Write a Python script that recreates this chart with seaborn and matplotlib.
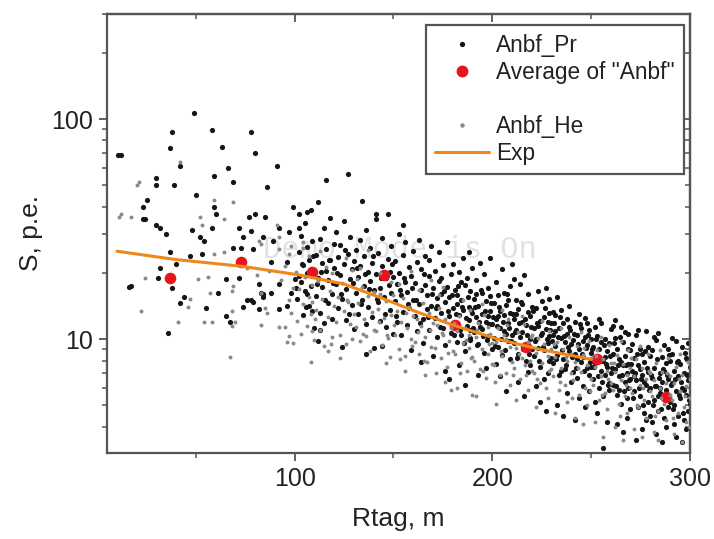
import numpy as np
import pandas as pd
import seaborn as sns
import matplotlib.pyplot as plt
from matplotlib.lines import Line2D
from matplotlib.ticker import LogLocator, NullFormatter, FixedLocator

# Anbf_Pr points (Rtag [m], S [p.e.])
pr_points = [
    (49, 107), (38, 87), (58, 89), (78, 87), (37, 74), (63, 75), (12, 69), (80, 70), (42, 61), (91, 61),
    (66, 60), (30, 54), (59, 55), (69, 52), (30, 50), (39, 50), (86, 49), (50, 45), (25, 43), (23, 40),
    (59, 40), (99, 40), (60, 37), (24, 35), (77, 36), (80, 37), (85, 36), (102, 37), (30, 33), (32, 32),
    (35, 30), (48, 31.5), (72, 32), (78, 31), (92, 32), (97, 30.6), (102, 32), (52, 29), (54, 28), (58, 32),
    (74, 29), (84, 29), (89, 28), (69, 26), (73, 26), (79, 25.6), (47, 24), (53, 24.4), (37, 25), (32, 21),
    (40, 22), (88, 22.4), (96, 22.4), (10.6, 69), (23, 35), (16, 17.2), (17, 17.5), (31, 19), (38, 17),
    (42, 14.6), (44, 15.6), (36, 10.7), (55, 13.8), (61, 16.3), (65, 18.8), (72, 19), (65, 12.7), (67, 12),
    (74, 14), (78, 15), (79, 14.7), (82, 13.7), (82, 17.8), (83, 16.3), (84, 15.6), (92, 13.7), (92, 17.8),
    (96, 14.2), (98, 16.3), (100, 18.8), (88, 16.3), (76, 15), (84, 16), (113, 11), (124, 9.2), (115, 11.9),
    (116, 53), (127, 56), (134, 42.5), (112, 42), (106, 38), (141, 37), (147, 37), (141, 35),
    # 100-110
    (101, 15.2), (102, 24.8), (103, 18.1), (103, 29.5), (104, 12.9), (104, 21.7), (105, 33.8), (105, 16.6),
    (106, 19.9), (106, 26.3), (107, 14.1), (107, 22.9), (108, 17.4), (108, 38.5), (109, 13.5), (109, 27.8),
    (110, 20.6), (110, 11.2), (102, 19.3), (106, 16.0),
    # 110-120
    (111, 24.1), (111, 15.7), (112, 19.0), (113, 28.6), (113, 13.1), (114, 22.3), (114, 17.2), (115, 31.9),
    (116, 20.4), (116, 25.7), (117, 14.6), (117, 18.5), (118, 35.4), (118, 23.0), (119, 16.1), (119, 12.4),
    (120, 27.1), (120, 21.0), (112, 9.8),
    # 120-130
    (121, 17.8), (121, 30.8), (122, 13.9), (122, 23.6), (123, 19.6), (123, 26.9), (124, 15.3), (125, 21.9),
    (125, 34.6), (126, 16.9), (126, 12.2), (127, 24.5), (128, 18.7), (128, 29.2), (129, 14.3), (129, 20.8),
    (130, 22.6), (130, 11.1),
    # 130-140
    (131, 16.3), (131, 25.4), (132, 19.2), (132, 13.0), (133, 28.1), (133, 21.4), (134, 15.0), (135, 23.9),
    (135, 17.5), (136, 11.7), (136, 31.2), (137, 20.1), (137, 14.0), (138, 26.0), (138, 18.3), (139, 12.6),
    (139, 22.2), (140, 16.8), (140, 9.1), (136, 8.6),
    # 140-150
    (141, 19.8), (142, 14.7), (142, 24.7), (143, 17.0), (143, 12.1), (144, 21.6), (144, 28.9), (145, 15.6),
    (146, 18.9), (146, 11.4), (147, 23.2), (148, 13.6), (148, 20.3), (149, 16.2), (149, 26.6), (150, 19.1),
    (150, 10.6), (144, 9.3),
    # 150-160
    (151, 14.9), (151, 22.7), (152, 17.9), (152, 12.0), (153, 30.1), (153, 20.0), (154, 15.8), (154, 10.4),
    (155, 24.2), (155, 13.3), (156, 18.2), (156, 27.5), (157, 11.6), (157, 16.4), (158, 21.2), (158, 13.9),
    (159, 19.4), (159, 8.9), (160, 25.1), (160, 15.1), (155, 33.0),
    # 160-170
    (161, 12.8), (161, 18.0), (162, 22.4), (162, 10.9), (163, 14.5), (163, 28.3), (164, 16.7), (164, 20.9),
    (165, 12.3), (165, 9.6), (166, 17.6), (166, 24.0), (167, 13.7), (167, 15.9), (168, 19.3), (168, 11.0),
    (169, 26.4), (169, 14.2), (170, 17.1), (170, 8.4), (164, 7.9), (168, 22.8),
    # 170-180
    (171, 12.5), (171, 20.5), (172, 15.4), (172, 10.2), (173, 18.4), (173, 24.9), (174, 13.2), (174, 16.0),
    (175, 11.3), (175, 21.8), (176, 14.8), (176, 9.4), (177, 27.6), (177, 17.3), (178, 12.7), (178, 15.5),
    (179, 19.7), (179, 10.7), (180, 13.8), (180, 22.0), (176, 7.2), (178, 6.6), (174, 18.9), (172, 14.1),
    # 180-190
    (181, 11.8), (181, 16.8), (182, 14.4), (182, 9.7), (183, 20.2), (183, 12.9), (184, 15.1), (184, 10.5),
    (185, 23.4), (185, 13.6), (186, 17.7), (186, 8.8), (187, 11.5), (187, 19.0), (188, 14.0), (188, 12.2),
    (189, 16.5), (189, 9.9), (190, 21.1), (190, 13.1), (183, 7.6), (186, 6.2), (188, 25.0), (184, 18.2),
    (189, 11.0), (182, 15.8),
    # 190-200
    (191, 10.8), (191, 15.3), (192, 12.6), (192, 18.6), (193, 9.5), (193, 14.2), (194, 11.4), (194, 22.1),
    (195, 16.2), (195, 13.0), (196, 8.7), (196, 19.8), (197, 12.0), (197, 14.9), (198, 10.3), (198, 17.0),
    (199, 13.4), (199, 23.5), (200, 11.7), (200, 9.0), (193, 6.9), (197, 7.4), (195, 11.1), (199, 15.7),
    (192, 16.0), (198, 12.8),
    # 200-210
    (201, 14.6), (201, 10.1), (202, 12.3), (202, 18.1), (203, 9.2), (203, 15.9), (204, 11.2), (204, 13.5),
    (205, 20.8), (205, 8.5), (206, 12.9), (206, 16.3), (207, 10.6), (207, 14.3), (208, 9.8), (208, 11.9),
    (209, 17.4), (209, 13.2), (210, 10.4), (210, 22.0), (204, 6.8), (207, 5.8), (202, 7.7), (209, 8.1),
    (206, 10.9), (203, 12.7), (208, 15.0),
    # 210-220
    (211, 12.4), (211, 9.6), (212, 15.1), (212, 11.0), (213, 8.6), (213, 13.7), (214, 17.9), (214, 10.2),
    (215, 12.0), (215, 14.5), (216, 9.3), (216, 19.5), (217, 11.6), (217, 8.0), (218, 13.3), (218, 16.1),
    (219, 10.0), (219, 12.7), (220, 9.0), (220, 14.0), (213, 6.4), (216, 5.5), (218, 7.1), (211, 18.7),
    (215, 10.8), (219, 7.6), (212, 13.0),
    # 220-230
    (221, 11.3), (221, 8.4), (222, 13.8), (222, 10.0), (223, 16.6), (223, 9.1), (224, 12.1), (224, 7.5),
    (225, 14.9), (225, 10.7), (226, 8.9), (226, 12.6), (227, 11.1), (227, 17.0), (228, 9.6), (228, 7.0),
    (229, 13.1), (229, 10.3), (230, 8.2), (230, 11.8), (224, 5.2), (227, 4.7), (222, 6.1), (226, 6.6),
    (229, 15.2), (223, 11.5), (228, 12.0),
    # 230-240
    (231, 10.4), (231, 7.8), (232, 12.9), (232, 9.3), (233, 15.5), (233, 8.5), (234, 11.2), (234, 6.9),
    (235, 10.1), (235, 13.6), (236, 8.1), (236, 11.9), (237, 9.7), (237, 7.3), (238, 12.4), (238, 10.6),
    (239, 8.8), (239, 14.1), (240, 9.5), (240, 6.4), (233, 5.0), (236, 4.5), (238, 5.7), (232, 10.9),
    (235, 7.2), (239, 11.4), (231, 13.3),
    # 240-250
    (241, 9.9), (241, 7.1), (242, 12.0), (242, 8.6), (243, 10.5), (243, 6.7), (244, 13.0), (244, 9.0),
    (245, 7.9), (245, 11.3), (246, 8.3), (246, 6.1), (247, 10.2), (247, 12.5), (248, 7.4), (248, 9.4),
    (249, 11.0), (249, 6.9), (250, 8.7), (250, 10.0), (244, 5.4), (247, 4.9), (249, 5.8), (242, 4.3),
    (246, 9.8), (250, 7.5), (243, 8.1), (248, 11.9),
    # 250-260
    (251, 9.2), (251, 6.6), (252, 11.4), (252, 7.8), (253, 8.4), (253, 10.3), (254, 6.0), (254, 9.0),
    (255, 7.2), (255, 11.9), (256, 8.0), (256, 5.5), (257, 10.0), (257, 6.9), (258, 8.8), (258, 7.5),
    (259, 9.6), (259, 5.9), (260, 11.1), (260, 7.0), (253, 4.6), (256, 3.2), (258, 4.2), (252, 5.2),
    (255, 9.7), (257, 8.3), (259, 6.3), (254, 12.4), (261, 11.5),
    # 260-270
    (261, 8.6), (261, 6.2), (262, 10.1), (262, 7.3), (263, 5.6), (263, 9.0), (264, 6.8), (264, 8.1),
    (265, 11.4), (265, 5.1), (266, 7.6), (266, 9.7), (267, 6.4), (267, 8.4), (268, 5.4), (268, 7.0),
    (269, 10.6), (269, 6.0), (270, 8.9), (270, 4.8), (263, 4.1), (266, 3.8), (268, 4.4), (262, 12.2),
    (265, 7.9), (267, 10.8), (269, 7.7), (264, 5.9), (270, 6.6),
    # 270-280
    (271, 7.2), (271, 9.5), (272, 5.8), (272, 8.2), (273, 6.5), (273, 10.4), (274, 4.9), (274, 7.6),
    (275, 9.0), (275, 5.5), (276, 6.9), (276, 8.6), (277, 4.6), (277, 7.9), (278, 6.2), (278, 10.9),
    (279, 5.2), (279, 7.1), (280, 8.4), (280, 6.0), (273, 3.5), (276, 3.9), (278, 4.3), (274, 11.0),
    (277, 6.4), (279, 9.2), (272, 6.8), (275, 7.3), (280, 4.5),
    # 280-290
    (281, 6.7), (281, 8.9), (282, 5.3), (282, 7.4), (283, 9.9), (283, 6.1), (284, 4.7), (284, 10.7),
    (285, 7.0), (285, 5.7), (286, 8.3), (286, 6.4), (287, 4.4), (287, 9.4), (288, 5.9), (288, 7.8),
    (289, 6.6), (289, 4.9), (290, 8.0), (290, 5.2), (283, 3.7), (286, 3.4), (288, 4.0), (282, 10.2),
    (285, 6.0), (287, 7.2), (289, 9.0), (284, 5.5), (281, 4.2),
    # 290-300
    (291, 6.3), (291, 8.6), (292, 5.0), (292, 7.2), (293, 9.8), (293, 5.8), (294, 4.5), (294, 6.8),
    (295, 7.7), (295, 5.4), (296, 9.2), (296, 6.0), (297, 4.3), (297, 7.0), (298, 5.6), (298, 8.2),
    (299, 6.5), (299, 4.7), (300, 7.5), (300, 5.1), (293, 3.6), (296, 3.4), (298, 3.9), (291, 10.1),
    (294, 8.0), (297, 5.9), (299, 9.6), (292, 4.1),
    # denser core of the cloud
    (100.5, 17.0), (103.5, 22.0), (105.5, 14.0), (107.5, 19.5), (109.5, 24.0), (111.5, 17.8), (113.5, 20.2),
    (115.5, 15.0), (117.5, 22.8), (119.5, 18.0), (121.5, 20.0), (123.5, 16.0), (125.5, 25.5), (127.5, 13.0),
    (129.5, 18.0), (131.5, 21.0), (133.5, 14.5), (135.5, 19.8), (137.5, 16.9), (139.5, 24.0), (141.5, 15.2),
    (143.5, 19.0), (145.5, 13.0), (147.5, 17.6), (149.5, 22.0), (151.5, 12.7), (153.5, 16.8), (155.5, 19.0),
    (157.5, 14.4), (159.5, 17.0), (161.5, 15.0), (163.5, 11.8), (165.5, 19.8), (167.5, 12.6), (169.5, 16.0),
    (171.5, 13.9), (173.5, 11.4), (175.5, 16.5), (177.5, 13.5), (179.5, 15.8),
    (180.5, 10.5), (181.5, 13.0), (182.5, 17.5), (183.5, 11.0), (184.5, 14.0), (185.5, 9.6), (186.5, 12.5),
    (187.5, 15.6), (188.5, 10.1), (189.5, 13.6), (190.5, 11.3), (191.5, 14.0), (192.5, 9.4), (193.5, 12.0),
    (194.5, 16.7), (195.5, 10.3), (196.5, 13.5), (197.5, 9.9), (198.5, 11.7), (199.5, 14.6), (200.5, 12.6),
    (201.5, 9.3), (202.5, 11.5), (203.5, 14.0), (204.5, 10.0), (205.5, 12.0), (206.5, 8.9), (207.5, 16.0),
    (208.5, 11.2), (209.5, 9.8), (210.5, 13.0), (211.5, 10.8), (212.5, 8.2), (213.5, 11.8), (214.5, 14.8),
    (215.5, 9.0), (216.5, 12.4), (217.5, 10.4), (218.5, 8.6), (219.5, 11.4), (220.5, 13.5), (221.5, 9.8),
    (222.5, 11.9), (223.5, 8.0), (224.5, 10.5), (225.5, 9.2), (226.5, 13.9), (227.5, 10.0), (228.5, 8.0),
    (229.5, 11.0), (230.5, 9.8), (231.5, 11.8), (232.5, 8.1), (233.5, 10.2), (234.5, 12.6), (235.5, 8.9),
    (236.5, 10.3), (237.5, 7.6), (238.5, 9.2), (239.5, 11.0), (240.5, 8.3), (241.5, 10.6), (242.5, 7.4),
    (243.5, 9.5), (244.5, 11.7), (245.5, 8.6), (246.5, 7.2), (247.5, 9.1), (248.5, 10.5), (249.5, 7.9),
    (250.5, 9.0), (251.5, 7.5), (252.5, 10.0), (253.5, 6.8), (254.5, 8.0), (255.5, 6.4), (256.5, 9.4),
    (257.5, 7.7), (258.5, 6.2), (259.5, 8.4), (260.5, 7.4), (261.5, 9.6), (262.5, 6.1), (263.5, 7.6),
    (264.5, 10.2), (265.5, 6.9), (266.5, 5.8), (267.5, 7.6), (268.5, 9.0), (269.5, 6.5), (270.5, 7.7),
    (271.5, 5.4), (272.5, 7.0), (273.5, 8.6), (274.5, 6.0), (275.5, 6.6), (276.5, 5.0), (277.5, 8.8),
    (278.5, 7.4), (279.5, 5.9), (280.5, 6.9), (281.5, 5.0), (282.5, 6.1), (283.5, 8.1), (284.5, 6.7),
    (285.5, 4.8), (286.5, 7.3), (287.5, 5.5), (288.5, 6.9), (289.5, 8.5), (290.5, 6.2), (291.5, 4.8),
    (292.5, 6.6), (293.5, 7.9), (294.5, 5.6), (295.5, 6.4), (296.5, 4.6), (297.5, 8.7), (298.5, 6.9),
    (299.5, 5.3),
]

# Anbf_He points (smaller grey dots)
he_points = [
    (21, 52), (11, 36), (17, 36), (42, 64), (59, 43), (52, 36), (69, 42), (64, 35), (53, 33), (20, 50),
    (12, 37), (24, 19), (22, 13.4), (46, 14), (47, 15.2), (41, 12), (54, 12), (58, 12), (51, 18.8),
    (56, 19.2), (69, 17.4), (68, 16.6), (57, 16.3), (70, 12), (68, 13.4), (68, 11.5), (67, 8.3), (83, 16.2),
    (85, 13.8), (86, 13.1), (83, 11.6), (92, 11.4), (95, 11.4), (97, 10.3), (96, 9.7), (98, 13.1),
    (97, 15), (108, 7.9), (99, 9.6), (59, 24.4), (64, 25), (82, 28), (83, 27), (91, 33), (92, 29),
    (92, 25.6), (98, 26.5), (97, 24.4), (104, 27.6), (76, 21), (81, 19.5), (87, 20.5), (93, 18.5),
    (95, 21.6), (99, 17),
    (101, 12.1), (102, 16.9), (103, 10.6), (104, 14.4), (105, 19.1), (106, 11.5), (107, 23.9), (108, 13.0),
    (109, 17.6), (110, 9.9), (104, 26.0), (107, 15.5), (109, 10.9),
    (111, 13.6), (112, 18.3), (113, 11.0), (114, 15.2), (115, 9.3), (116, 21.3), (117, 12.6), (118, 16.6),
    (119, 10.2), (120, 14.1), (113, 25.2), (117, 8.8), (119, 19.9),
    (121, 12.0), (122, 15.6), (123, 10.4), (124, 18.0), (125, 13.4), (126, 9.5), (127, 14.8), (128, 11.7),
    (129, 20.7), (130, 13.0), (123, 8.2), (126, 23.3), (129, 10.0),
    (131, 11.4), (132, 14.6), (133, 9.8), (134, 17.3), (135, 12.3), (136, 10.3), (137, 15.7), (138, 8.8),
    (139, 13.3), (140, 11.0), (133, 21.0), (137, 25.3), (140, 16.4),
    (141, 10.9), (142, 13.7), (143, 16.1), (144, 9.4), (145, 12.5), (146, 14.9), (147, 10.1), (148, 8.3),
    (149, 12.9), (150, 15.9), (143, 20.0), (146, 7.8), (149, 18.1),
    (151, 10.5), (152, 13.5), (153, 9.0), (154, 12.0), (155, 15.4), (156, 8.4), (157, 11.2), (158, 14.0),
    (159, 10.0), (160, 12.7), (153, 17.8), (156, 7.2), (159, 20.5),
    (161, 9.7), (162, 12.4), (163, 8.6), (164, 11.5), (165, 14.6), (166, 10.2), (167, 7.9), (168, 13.2),
    (169, 9.2), (170, 11.8), (163, 16.8), (166, 6.9), (169, 18.5),
    (171, 9.1), (172, 11.6), (173, 13.9), (174, 8.2), (175, 10.4), (176, 12.3), (177, 7.5), (178, 9.8),
    (179, 11.3), (180, 8.8), (173, 15.9), (176, 6.4), (179, 5.9), (175, 17.2),
    (181, 8.6), (182, 10.9), (183, 12.8), (184, 7.8), (185, 9.6), (186, 11.3), (187, 7.2), (188, 9.1),
    (189, 13.6), (190, 8.3), (182, 6.0), (185, 15.1), (188, 10.4), (190, 5.6),
    (191, 8.0), (192, 10.2), (193, 11.8), (194, 7.3), (195, 9.0), (196, 12.9), (197, 6.7), (198, 8.6),
    (199, 10.6), (200, 7.7), (192, 5.5), (195, 14.4), (198, 11.4), (200, 9.6),
    (201, 7.6), (202, 9.7), (203, 11.3), (204, 6.9), (205, 8.4), (206, 10.5), (207, 7.0), (208, 12.4),
    (209, 9.2), (210, 7.9), (202, 5.1), (205, 13.6), (209, 6.2), (207, 10.0),
    (211, 7.4), (212, 9.1), (213, 10.8), (214, 6.6), (215, 8.2), (216, 11.7), (217, 6.9), (218, 9.7),
    (219, 8.0), (220, 10.4), (212, 5.3), (215, 12.8), (218, 5.9), (220, 7.2),
    (221, 7.0), (222, 8.7), (223, 10.1), (224, 6.3), (225, 7.8), (226, 9.5), (227, 6.0), (228, 8.4),
    (229, 10.9), (230, 7.3), (222, 4.9), (225, 12.1), (228, 5.4), (230, 9.0),
    (231, 6.8), (232, 8.3), (233, 9.7), (234, 5.9), (235, 7.4), (236, 9.0), (237, 6.2), (238, 8.0),
    (239, 10.2), (240, 7.0), (232, 4.6), (235, 11.3), (238, 5.2), (240, 8.6),
    (241, 6.5), (242, 7.9), (243, 9.3), (244, 5.6), (245, 7.1), (246, 8.5), (247, 6.0), (248, 7.6),
    (249, 9.8), (250, 6.6), (242, 4.4), (245, 10.8), (248, 5.0), (250, 8.2), (246, 4.1),
    (251, 6.2), (252, 7.5), (253, 8.9), (254, 5.3), (255, 6.8), (256, 8.1), (257, 5.7), (258, 7.2),
    (259, 9.4), (260, 6.3), (252, 4.2), (255, 10.2), (258, 4.8), (260, 7.8), (256, 3.6),
    (261, 5.9), (262, 7.1), (263, 8.5), (264, 5.1), (265, 6.5), (266, 7.7), (267, 5.5), (268, 6.9),
    (269, 8.9), (270, 6.0), (262, 4.0), (265, 9.8), (268, 4.6), (270, 7.4), (266, 3.5),
    (271, 5.7), (272, 6.8), (273, 8.1), (274, 4.9), (275, 6.2), (276, 7.4), (277, 5.3), (278, 6.6),
    (279, 8.6), (280, 5.8), (272, 3.9), (275, 9.3), (278, 4.4), (280, 7.0), (276, 3.6),
    (281, 5.5), (282, 6.5), (283, 7.8), (284, 4.7), (285, 6.0), (286, 7.1), (287, 5.1), (288, 6.3),
    (289, 8.2), (290, 5.6), (282, 3.8), (285, 8.9), (288, 4.3), (290, 6.8), (284, 3.5),
    (291, 5.3), (292, 6.3), (293, 7.5), (294, 4.6), (295, 5.8), (296, 6.9), (297, 4.9), (298, 6.1),
    (299, 7.9), (300, 5.4), (292, 3.7), (295, 8.6), (298, 4.2), (300, 6.6), (296, 3.4),
    (150.5, 11.6), (153.5, 8.1), (156.5, 13.1), (159.5, 9.3), (162.5, 10.8), (165.5, 8.0), (168.5, 11.0),
    (171.5, 7.0), (174.5, 10.7), (177.5, 8.7), (180.5, 11.9), (183.5, 7.0), (186.5, 9.9), (189.5, 8.2),
    (192.5, 11.0), (195.5, 7.2), (198.5, 9.5), (201.5, 6.4), (204.5, 8.8), (207.5, 11.6), (210.5, 6.9),
    (213.5, 8.6), (216.5, 7.6), (219.5, 10.2), (222.5, 6.6), (225.5, 8.9), (228.5, 7.2), (231.5, 9.5),
    (234.5, 6.4), (237.5, 8.3), (240.5, 5.4), (243.5, 7.4), (246.5, 9.1), (249.5, 5.8), (252.5, 8.4),
    (255.5, 5.6), (258.5, 6.6), (261.5, 7.8), (264.5, 4.5), (267.5, 6.2), (270.5, 8.2), (273.5, 5.0),
    (276.5, 6.0), (279.5, 7.2), (282.5, 4.5), (285.5, 5.4), (288.5, 7.0), (291.5, 4.4), (294.5, 6.6),
    (297.5, 5.5), (299.5, 4.0), (110.5, 12.4), (118.5, 9.5), (126.5, 15.0), (134.5, 10.6), (142.5, 12.0),
    (100.5, 20.2), (108.5, 14.8), (131.5, 18.8), (146.5, 10.4),
]

# averages of "Anbf"
avg_r = [37, 73, 109, 145, 181, 217, 253, 288]
avg_s = [19.0, 22.4, 20.3, 19.5, 11.6, 9.2, 8.1, 5.45]

# Exp curve
exp_r = [10, 40, 74, 102, 125, 143, 160, 180, 203, 224, 250]
exp_s = [25.1, 23.0, 21.4, 19.6, 17.8, 15.5, 13.5, 11.6, 10.0, 9.0, 8.1]

pr = pd.DataFrame(pr_points, columns=['Rtag', 'S'])
he = pd.DataFrame(he_points, columns=['Rtag', 'S'])
avg = pd.DataFrame({'Rtag': avg_r, 'S': avg_s})
exp = pd.DataFrame({'Rtag': exp_r, 'S': exp_s})

sns.set_style('ticks')
plt.rcParams['font.family'] = ['Liberation Sans', 'DejaVu Sans']

fig = plt.figure(figsize=(7.14, 5.39), dpi=100)
ax = fig.add_axes([0.150, 0.160, 0.816, 0.814])

ax.text(0.503, 0.462, 'Demo Mode is On', transform=ax.transAxes, ha='center', va='center',
        fontsize=22, family=['Liberation Mono', 'DejaVu Sans Mono'], color='#e2e2e2', zorder=0)

sns.scatterplot(data=pr, x='Rtag', y='S', ax=ax, color='#151515', s=14, linewidth=0, zorder=2)
sns.scatterplot(data=avg, x='Rtag', y='S', ax=ax, color='#e8141c', s=70, linewidth=0, zorder=3)
sns.scatterplot(data=he, x='Rtag', y='S', ax=ax, color='#8a8a8a', s=8, linewidth=0, zorder=4)
sns.lineplot(data=exp, x='Rtag', y='S', ax=ax, color='#f0871a', linewidth=2.2, zorder=5)

ax.set_yscale('log')
ax.set_xlim(5, 300)
ax.set_ylim(3.05, 300)

spine_c = '#555555'
for sp in ax.spines.values():
    sp.set_visible(True)
    sp.set_color(spine_c)
    sp.set_linewidth(1.6)

ax.xaxis.set_major_locator(FixedLocator([100, 200, 300]))
ax.xaxis.set_minor_locator(FixedLocator([50, 150, 250]))
ax.yaxis.set_minor_locator(LogLocator(base=10, subs=np.arange(2, 10)))
ax.yaxis.set_minor_formatter(NullFormatter())
ax.set_yticks([10, 100])
ax.set_yticklabels(['10', '100'])

ax.tick_params(which='major', direction='out', length=6, width=1.3, color=spine_c,
               labelsize=18, labelcolor='#222222', pad=4, bottom=True, left=True)
ax.tick_params(which='minor', direction='out', length=3.5, width=1.1, color=spine_c,
               bottom=True, left=True)

# mirrored ticks pointing inwards on top and right
top = ax.secondary_xaxis('top')
top.xaxis.set_major_locator(FixedLocator([100, 200, 300]))
top.xaxis.set_minor_locator(FixedLocator([50, 150, 250]))
top.tick_params(which='major', direction='in', length=6, width=1.3, color=spine_c, labeltop=False)
top.tick_params(which='minor', direction='in', length=3.5, width=1.1, color=spine_c)
top.spines['top'].set_color(spine_c)
top.spines['top'].set_linewidth(1.6)
right = ax.secondary_yaxis('right')
right.yaxis.set_minor_locator(LogLocator(base=10, subs=np.arange(2, 10)))
right.set_yticks([10, 100])
right.tick_params(which='major', direction='in', length=6, width=1.3, color=spine_c, labelright=False)
right.tick_params(which='minor', direction='in', length=3.5, width=1.1, color=spine_c, labelright=False)
right.spines['right'].set_color(spine_c)
right.spines['right'].set_linewidth(1.6)

ax.set_xlabel('Rtag, m', fontsize=19, color='#222222', labelpad=12)
ax.set_ylabel('S, p.e.', fontsize=19, color='#222222', labelpad=6)

handles = [
    Line2D([], [], ls='', marker='o', ms=2.8, color='#151515'),
    Line2D([], [], ls='', marker='o', ms=7.5, color='#e8141c'),
    Line2D([], [], ls='', marker=None),
    Line2D([], [], ls='', marker='o', ms=2.2, color='#8a8a8a'),
    Line2D([], [], color='#f0871a', lw=2.2),
]
labels = ['Anbf_Pr', 'Average of "Anbf"', ' ', 'Anbf_He', 'Exp']
leg = ax.legend(handles, labels, loc='upper right', bbox_to_anchor=(0.99, 0.975), borderaxespad=0,
                fontsize=16.3, frameon=True, fancybox=False, handlelength=2.4, handletextpad=0.3,
                labelspacing=0.18, borderpad=0.4, framealpha=1)
leg.get_frame().set_edgecolor(spine_c)
leg.get_frame().set_linewidth(1.6)
for t in leg.get_texts():
    t.set_color('#222222')

fig.savefig('out.png', dpi=100)
